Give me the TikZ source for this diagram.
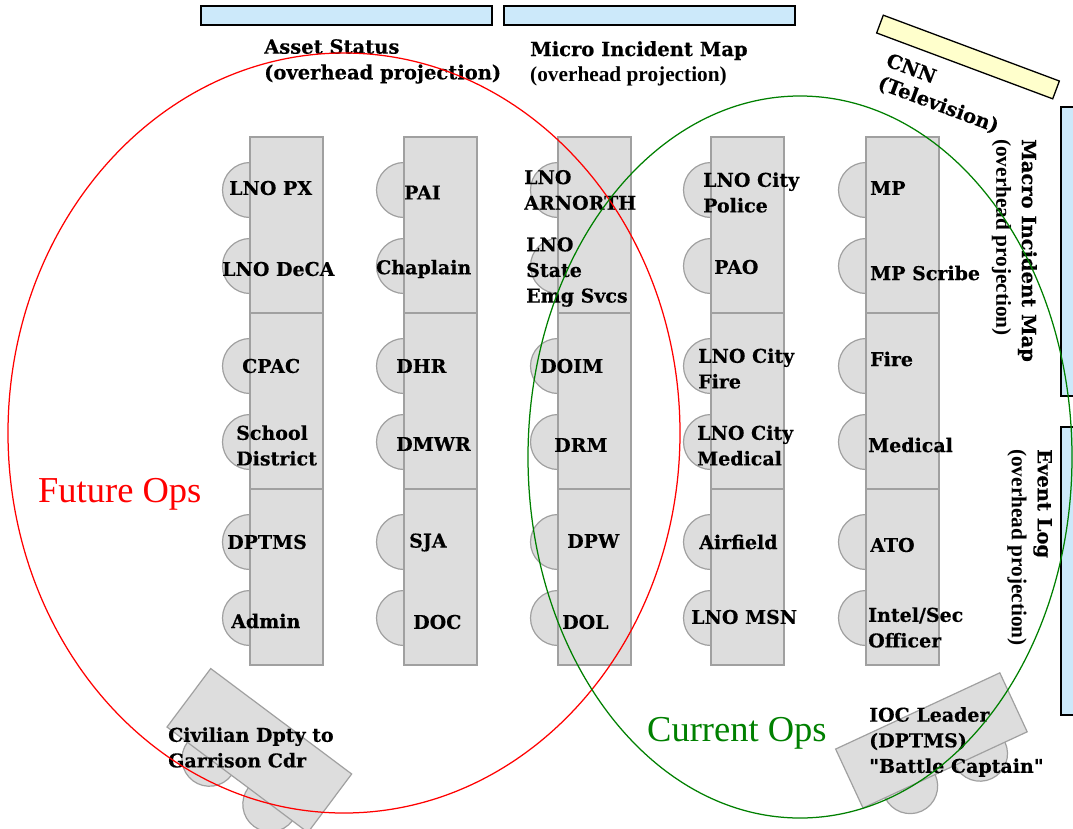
\documentclass[tikz,border=0pt]{standalone}
\usepackage{fontspec}
\newfontfamily\lblfont{DejaVu Serif}[BoldFeatures={FakeBold=0.3}]
\newfontfamily\tmsfont{Liberation Serif}
\definecolor{tablefill}{HTML}{DDDDDD}
\definecolor{tableline}{HTML}{A0A0A0}
\definecolor{screenfill}{HTML}{CCE9FA}
\definecolor{tvfill}{HTML}{FFFFCC}
\definecolor{opsgreen}{HTML}{008000}
\begin{document}
\begin{tikzpicture}[x=1pt,y=-1pt,
  tablebox/.style={fill=tablefill,draw=tableline,line width=1.2pt},
  chair/.style={fill=tablefill,draw=tableline,line width=1.2pt},
  screen/.style={fill=screenfill,draw=black,line width=1.5pt},
  tvscreen/.style={fill=tvfill,draw=black,line width=1.3pt},
  lbl/.style={font=\lblfont\bfseries\fontsize{19}{25.6}\selectfont,inner sep=0pt,align=left,anchor=west},
  toplbl/.style={font=\lblfont\bfseries\fontsize{19.5}{25.6}\selectfont,inner sep=0pt,align=left,anchor=north west},
  ops/.style={font=\tmsfont\fontsize{36.5}{40}\selectfont,inner sep=0pt,anchor=base west},
  opsline/.style={line width=1.25pt}
]
\useasboundingbox (0,0) rectangle (1073,828);
\clip (0,0) rectangle (1073,828);
\fill[white] (0,0) rectangle (1073,828);

% tables with chairs
\foreach \cx in {250,404,558,711,866}{
  \foreach \cy in {190,266,366,442,542,618}
    \draw[chair] (\cx,\cy) circle[radius=27.5];
  \foreach \ty in {137,313,489}
    \draw[tablebox] (\cx,\ty) rectangle ++(73,176);
}

% rotated table: civilian deputy
\begin{scope}[shift={(167,727)},rotate=53.2]
  \draw[chair] (0,53) circle[radius=27.5];
  \draw[chair] (0,129) circle[radius=27.5];
  \draw[tablebox] (0,0) rectangle (73,176);
\end{scope}

% rotated table: IOC leader
\begin{scope}[shift={(863,808)},rotate=114.9]
  \draw[chair] (0,52) circle[radius=27.5];
  \draw[chair] (0,129) circle[radius=27.5];
  \draw[tablebox] (0,0) rectangle (65,181);
\end{scope}

% screens
\draw[screen] (201,6) rectangle (492,25);
\draw[screen] (504,6) rectangle (795,25);
\draw[screen] (1061,107) rectangle (1090,396);
\draw[screen] (1061,427) rectangle (1090,715);
\draw[tvscreen,rotate around={-20.5:(968,57)}] (874,47.5) rectangle (1062,66.5);

% screen labels
\node[toplbl] (asset) at (264,39) {Asset Status\\(overhead projection)};
\node[toplbl] (micro) at (530,41) {Micro Incident Map\\{\tmsfont\bfseries\fontsize{21.3}{25.6}\selectfont(overhead projection)}};
\node[toplbl,rotate=-90] (macro) at (1037,139) {Macro Incident Map\\{\tmsfont\bfseries\fontsize{21.3}{25.6}\selectfont(overhead projection)}};
\node[toplbl,rotate=-90] (eventlog) at (1052,449) {Event Log\\{\tmsfont\bfseries\fontsize{21.3}{25.6}\selectfont(overhead projection)}};
\node[toplbl,font=\lblfont\bfseries\fontsize{19.5}{24}\selectfont,rotate=-20.5] (cnn) at (890,52) {CNN\\(Television)};

% column 1
\node[lbl] (lnopx) at (229,188) {LNO PX};
\node[lbl] (lnodeca) at (222,269) {LNO DeCA};
\node[lbl] (cpac) at (242,366) {CPAC};
\node[lbl] (school) at (236,445.5) {School\\District};
\node[lbl] (dptms) at (227,542) {DPTMS};
\node[lbl] (admin) at (231,621) {Admin};
% column 2
\node[lbl] (pai) at (404,192.5) {PAI};
\node[lbl] (chaplain) at (376,269) {Chaplain};
\node[lbl] (dhr) at (396,366) {DHR};
\node[lbl] (dmwr) at (396,444) {DMWR};
\node[lbl] (sja) at (409,542.5) {SJA};
\node[lbl] (doc) at (413,622) {DOC};
% column 3
\node[lbl] (arnorth) at (524,190) {LNO\\ARNORTH};
\node[lbl] (state) at (526,272) {LNO\\State\\Emg Svcs};
\node[lbl] (doim) at (540,366) {DOIM};
\node[lbl] (drm) at (554,445) {DRM};
\node[lbl] (dpw) at (567,541) {DPW};
\node[lbl] (dol) at (562,622) {DOL};
% column 4
\node[lbl] (police) at (703,192.5) {LNO City\\Police};
\node[lbl] (pao) at (714,267) {PAO};
\node[lbl] (cityfire) at (698,368.5) {LNO City\\Fire};
\node[lbl] (citymed) at (697,445.5) {LNO City\\Medical};
\node[lbl] (airfield) at (699,542) {Airfield};
\node[lbl] (msn) at (691,617) {LNO MSN};
% column 5
\node[lbl] (mp) at (870,188) {MP};
\node[lbl] (mpscribe) at (870,273) {MP Scribe};
\node[lbl] (fire) at (870,359) {Fire};
\node[lbl] (medical) at (868,445) {Medical};
\node[lbl] (ato) at (870,545) {ATO};
\node[lbl] (intel) at (868,627.5) {Intel/Sec\\Officer};
% rotated tables
\node[lbl] (civilian) at (168,747.5) {Civilian Dpty to\\Garrison Cdr};
\node[lbl] (ioc) at (869,742) {IOC Leader\\(DPTMS)\\"Battle Captain"};

% operation groups
\draw[red,opsline] (344,433) ellipse[x radius=336,y radius=380];
\draw[opsgreen,opsline] (800,457) ellipse[x radius=272,y radius=361];
\node[ops,text=red] (future) at (38,502) {Future Ops};
\node[ops,text=opsgreen] (current) at (647,741.5) {Current Ops};
\end{tikzpicture}
\end{document}
